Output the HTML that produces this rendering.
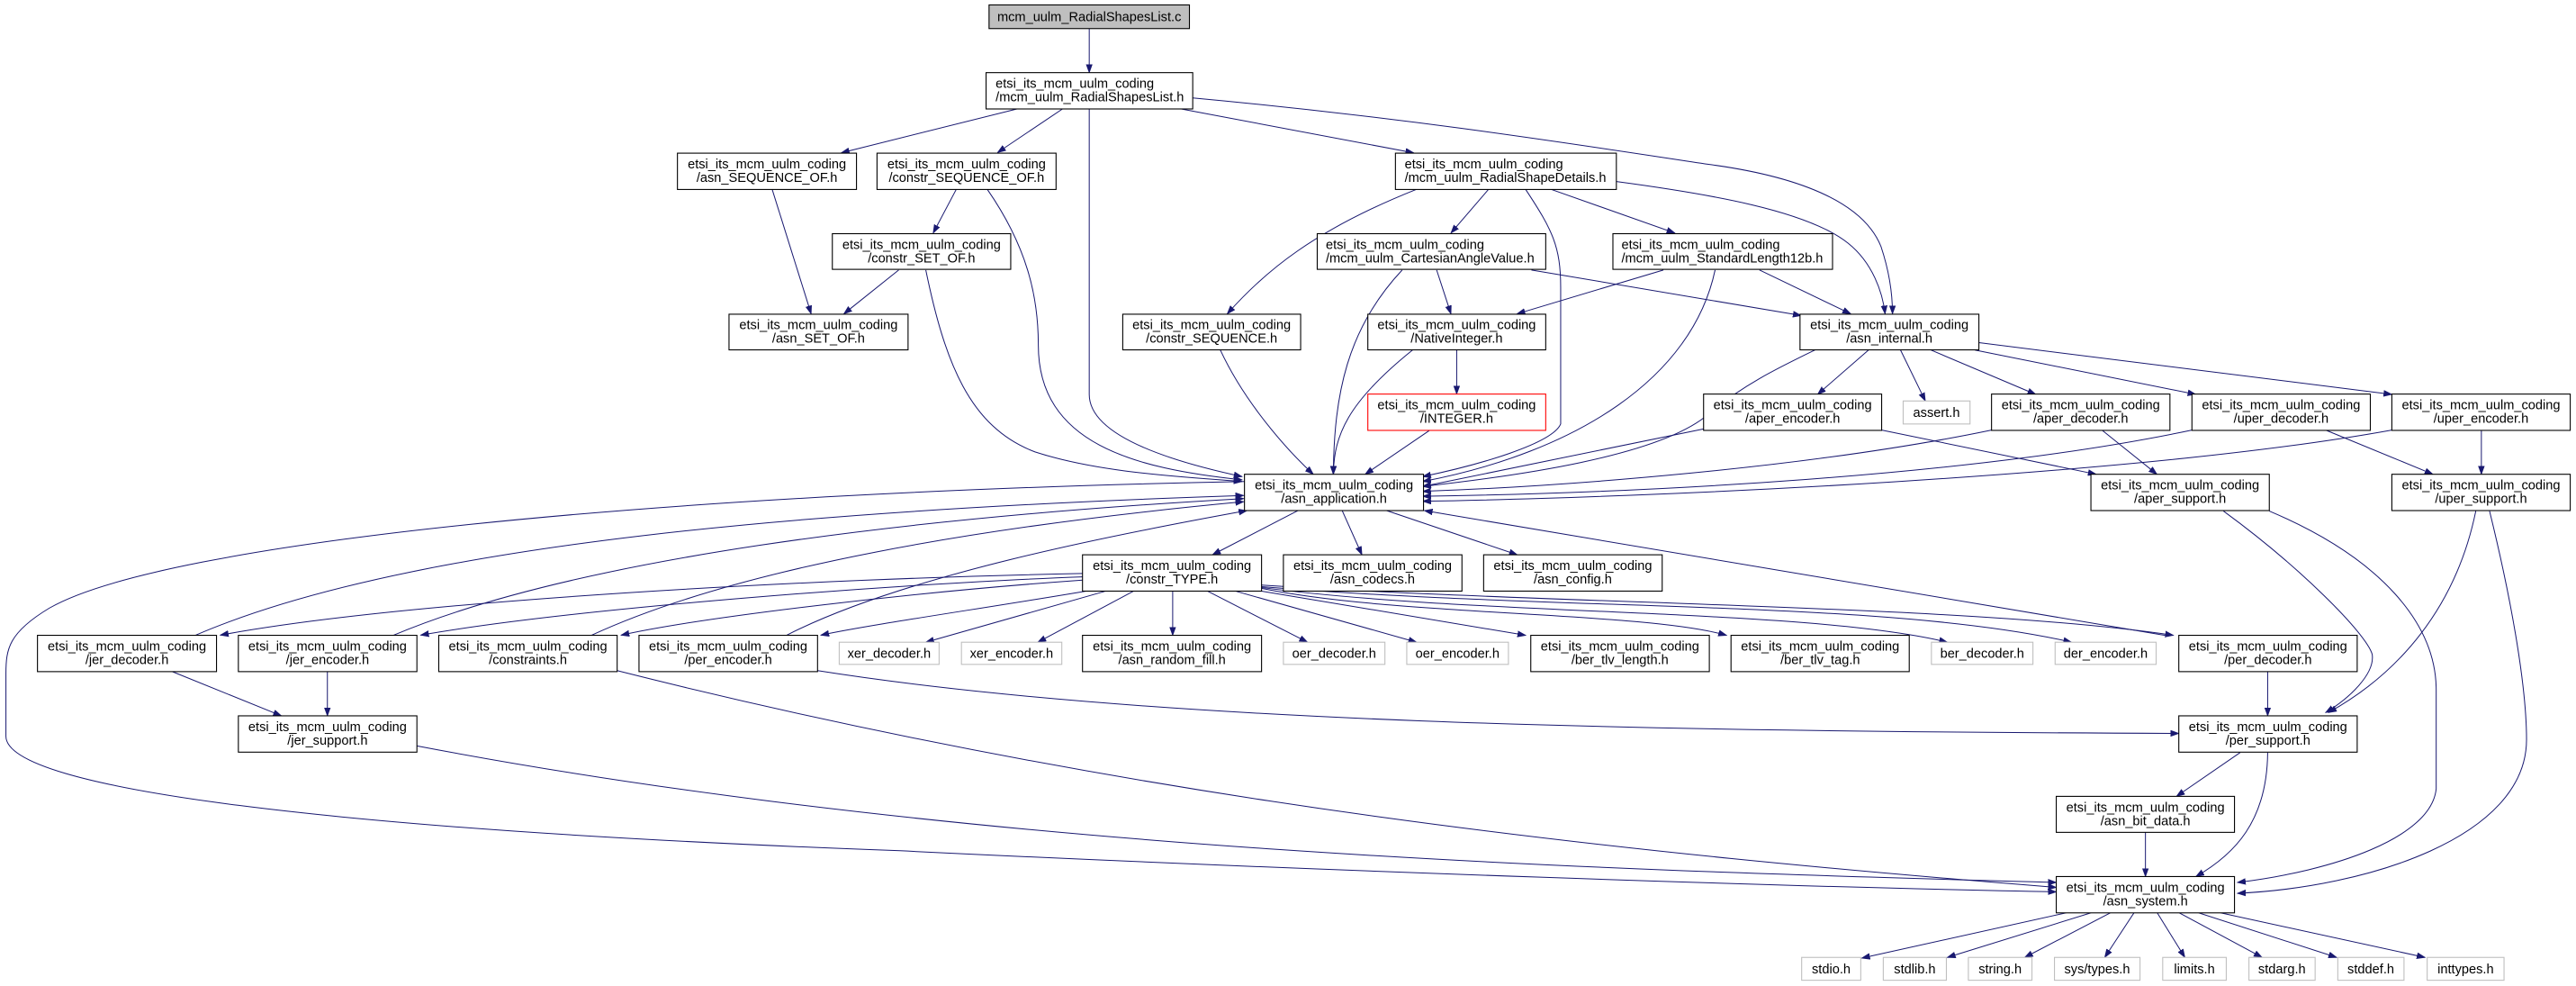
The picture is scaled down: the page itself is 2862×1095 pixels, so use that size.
<!DOCTYPE html>
<html><head><meta charset="utf-8"><style>
html,body{margin:0;padding:0;background:#fff;}
svg{display:block;}
text{font-family:"Liberation Sans",sans-serif;font-size:8px;fill:#000;}
.n{fill:#fff;stroke:#000;stroke-width:0.6;}
.g{fill:#fff;stroke:#bfbfbf;stroke-width:0.6;}
.e{fill:none;stroke:#191970;stroke-width:0.55;marker-end:url(#a);}
</style></head><body>
<svg width="2862" height="1095" viewBox="0 0 1568 600" xmlns="http://www.w3.org/2000/svg">
<defs><marker id="a" markerUnits="userSpaceOnUse" markerWidth="8" markerHeight="6" refX="5" refY="2" orient="auto"><path d="M0,0.2 L5,2 L0,3.8 z" fill="#191970" stroke="#191970" stroke-width="0.4"/></marker></defs>

<!-- edges -->
<path class="e" d="M663,17.3 L663,44.2"/>
<path class="e" d="M619,66.3 L512,93"/>
<path class="e" d="M646.7,66.3 L607.2,92.8"/>
<path class="e" d="M663,66.3 L663,240 C663,262 700,278 756,290"/>
<path class="e" d="M719,66.3 L860.5,93"/>
<path class="e" d="M726,59.6 C860,72 960,88 1040,100 C1100,108 1135,125 1145,150 C1150,165 1152,178 1152,191"/>
<path class="e" d="M984,110.5 C1040,118 1100,128 1125,148 C1140,160 1146,178 1147.5,191"/>
<path class="e" d="M862,115.3 C800,140 770,165 747,191"/>
<path class="e" d="M906,115.3 L883.2,141.8"/>
<path class="e" d="M928.7,115.3 C945,140 950,150 950,175 L950,258 C945,270 900,283 866,290"/>
<path class="e" d="M944.4,115.3 L1019.5,141.8"/>
<path class="e" d="M853.5,164.3 C820,200 812,240 811.6,288.6"/>
<path class="e" d="M874.5,164.3 L883.2,191"/>
<path class="e" d="M932.2,164.3 L1096.4,192"/>
<path class="e" d="M1012.5,164.3 L923.4,191"/>
<path class="e" d="M1044,164.3 C1030,230 960,275 866,293"/>
<path class="e" d="M1071,164.3 L1126.6,191"/>
<path class="e" d="M582,115.3 L568,141.8"/>
<path class="e" d="M601,115.3 C625,150 632,180 632,210 C632,270 690,285 756,292"/>
<path class="e" d="M470,115.3 L493.7,191"/>
<path class="e" d="M547,164.3 L513.6,191"/>
<path class="e" d="M563.5,164.3 C575,220 590,260 630,275 C670,288 720,290 756,293"/>
<path class="e" d="M742.8,213 C760,250 790,280 799.4,288.6"/>
<path class="e" d="M859.8,213 C820,245 812,265 811.6,288.6"/>
<path class="e" d="M886.7,213 L886.7,239.8"/>
<path class="e" d="M870,262 L831,288.6"/>
<path class="e" d="M1104.8,213 C1080,225 1060,235 1040,252 C1010,278 920,290 866,296"/>
<path class="e" d="M1137.4,213 L1106.4,240"/>
<path class="e" d="M1156.9,213 L1172,244"/>
<path class="e" d="M1175.4,213 L1239.2,240"/>
<path class="e" d="M1202.2,213 L1336.7,240"/>
<path class="e" d="M1204.6,208.5 L1456,240"/>
<path class="e" d="M1037,261 L866,296"/>
<path class="e" d="M1145.4,261.7 L1276,288.6"/>
<path class="e" d="M1212.3,261.7 C1100,285 950,296 866,299"/>
<path class="e" d="M1279.5,261.7 L1313,288.6"/>
<path class="e" d="M1334.3,261.7 C1200,290 1000,300 866,302"/>
<path class="e" d="M1415.7,261.7 L1481,288.6"/>
<path class="e" d="M1456,261.7 C1300,290 1000,303 866,305"/>
<path class="e" d="M1510.5,261.7 L1510.5,288.6"/>
<path class="e" d="M1353.5,311 C1400,345 1440,385 1444,398 C1446,410 1430,425 1415.7,433.6"/>
<path class="e" d="M1381.4,311 C1450,340 1483,380 1483,420 L1483,480 C1480,510 1420,530 1362,537"/>
<path class="e" d="M1507.1,311 C1495,370 1460,410 1417.4,433.6"/>
<path class="e" d="M1515.5,311 C1530,370 1538,420 1538,450 C1538,510 1440,540 1362,543.6"/>
<path class="e" d="M790,310.7 L738,337.6"/>
<path class="e" d="M817,310.7 L829,337.6"/>
<path class="e" d="M844,310.7 L923.6,337.6"/>
<path class="e" d="M1320,387 L867,310.7"/>
<path class="e" d="M1380.4,408.7 L1380.4,435.6"/>
<path class="e" d="M658.9,349 C500,352 250,365 134,386.5"/>
<path class="e" d="M658.9,351 C550,355 350,370 256,386.5"/>
<path class="e" d="M658.9,353 C560,360 430,375 378,386.5"/>
<path class="e" d="M661,359.7 C600,370 530,380 499.6,386.5"/>
<path class="e" d="M673,359.7 L563.5,390.8"/>
<path class="e" d="M690,359.7 L631.7,390.8"/>
<path class="e" d="M713.8,359.7 L713.8,386.6"/>
<path class="e" d="M735,359.7 L795.9,390.8"/>
<path class="e" d="M752,359.7 L862.3,390.8"/>
<path class="e" d="M767.9,359.7 L928.7,386.6"/>
<path class="e" d="M767.9,358 C850,375 1000,372 1051,386.6"/>
<path class="e" d="M767.9,357.5 C900,375 1100,370 1185.4,390.8"/>
<path class="e" d="M767.9,357 C950,372 1150,365 1261,390.8"/>
<path class="e" d="M767.9,356 C950,368 1200,368 1323,386.6"/>
<path class="e" d="M118.8,386.6 C250,330 500,310 757,301.5"/>
<path class="e" d="M239.3,386.6 C350,340 550,315 757,303.4"/>
<path class="e" d="M359.9,386.6 C450,345 600,320 757,305.3"/>
<path class="e" d="M478.7,386.6 C550,350 680,325 759,310.7"/>
<path class="e" d="M104.8,408.7 L171.2,435.6"/>
<path class="e" d="M199.2,408.7 L199.2,435.6"/>
<path class="e" d="M253.7,453.9 C600,520 1000,530 1251.7,537"/>
<path class="e" d="M375.6,408.1 C700,490 1000,520 1251.7,540"/>
<path class="e" d="M497.6,408.1 C700,440 1000,445 1326.3,446.3"/>
<path class="e" d="M757.5,293 C400,300 100,330 30,370 C5,385 3.5,395 3.5,410 L3.5,448 C3.5,480 200,505 548,517.7 C800,530 1100,540 1251.7,542.7"/>
<path class="e" d="M1363.6,458 L1324.9,484.6"/>
<path class="e" d="M1380.4,458 C1380,500 1360,520 1336.7,533.4"/>
<path class="e" d="M1306,506.5 L1306,533.4"/>
<path class="e" d="M1257.7,555.5 L1133.3,583"/>
<path class="e" d="M1272.8,555.5 L1185.4,582.6"/>
<path class="e" d="M1284.6,555.5 L1232.5,582.6"/>
<path class="e" d="M1299,555.5 L1281.2,582.6"/>
<path class="e" d="M1313.2,555.5 L1330,582.6"/>
<path class="e" d="M1326.6,555.5 L1377,582.6"/>
<path class="e" d="M1338.4,555.5 L1422.4,582.6"/>
<path class="e" d="M1351.8,555.5 L1476.2,582.6"/>

<!-- nodes -->
<rect x="602" y="3" width="122" height="14.4" fill="#bfbfbf" stroke="#000" stroke-width="0.6"/>
<text x="663" y="12.9" text-anchor="middle">mcm_uulm_RadialShapesList.c</text>

<rect class="n" x="600.2" y="44.2" width="125.8" height="22.1"/>
<text x="606" y="53.5">etsi_its_mcm_uulm_coding</text><text x="606" y="61.7">/mcm_uulm_RadialShapesList.h</text>

<g text-anchor="middle">
<rect class="n" x="412.3" y="93.2" width="109" height="22.1"/>
<text x="466.8" y="102.5">etsi_its_mcm_uulm_coding</text><text x="466.8" y="110.7">/asn_SEQUENCE_OF.h</text>
<rect class="n" x="533.8" y="93.2" width="109" height="22.1"/>
<text x="588.3" y="102.5">etsi_its_mcm_uulm_coding</text><text x="588.3" y="110.7">/constr_SEQUENCE_OF.h</text>
<rect class="n" x="506.6" y="142.2" width="108.6" height="21.7"/>
<text x="560.9" y="151.4">etsi_its_mcm_uulm_coding</text><text x="560.9" y="159.6">/constr_SET_OF.h</text>
<rect class="n" x="443.7" y="191.2" width="109" height="21.7"/>
<text x="498.2" y="200.4">etsi_its_mcm_uulm_coding</text><text x="498.2" y="208.6">/asn_SET_OF.h</text>
</g>

<rect class="n" x="849.4" y="93.2" width="134.5" height="22.1"/>
<text x="855" y="102.5">etsi_its_mcm_uulm_coding</text><text x="855" y="110.7">/mcm_uulm_RadialShapeDetails.h</text>
<rect class="n" x="801.8" y="142.2" width="139.1" height="21.7"/>
<text x="807" y="151.4">etsi_its_mcm_uulm_coding</text><text x="807" y="159.6">/mcm_uulm_CartesianAngleValue.h</text>
<rect class="n" x="981.8" y="142.2" width="133.7" height="21.7"/>
<text x="987" y="151.4">etsi_its_mcm_uulm_coding</text><text x="987" y="159.6">/mcm_uulm_StandardLength12b.h</text>

<g text-anchor="middle">
<rect class="n" x="683.4" y="191.2" width="108.3" height="21.7"/>
<text x="737.5" y="200.4">etsi_its_mcm_uulm_coding</text><text x="737.5" y="208.6">/constr_SEQUENCE.h</text>
<rect class="n" x="832.6" y="191.2" width="108.3" height="21.7"/>
<text x="886.7" y="200.4">etsi_its_mcm_uulm_coding</text><text x="886.7" y="208.6">/NativeInteger.h</text>
<rect x="832.6" y="239.8" width="108.3" height="22.1" fill="#fff" stroke="#ff0000" stroke-width="0.6"/>
<text x="886.7" y="249.1">etsi_its_mcm_uulm_coding</text><text x="886.7" y="257.3">/INTEGER.h</text>
<rect class="n" x="1095.7" y="191.2" width="108.9" height="21.7"/>
<text x="1150.1" y="200.4">etsi_its_mcm_uulm_coding</text><text x="1150.1" y="208.6">/asn_internal.h</text>

<rect class="n" x="1037" y="239.8" width="108.4" height="22.1"/>
<text x="1091.2" y="249.1">etsi_its_mcm_uulm_coding</text><text x="1091.2" y="257.3">/aper_encoder.h</text>
<rect class="g" x="1158.5" y="244" width="40.7" height="14"/>
<text x="1178.8" y="253.8">assert.h</text>
<rect class="n" x="1212.3" y="239.8" width="108.6" height="22.1"/>
<text x="1266.6" y="249.1">etsi_its_mcm_uulm_coding</text><text x="1266.6" y="257.3">/aper_decoder.h</text>
<rect class="n" x="1334.3" y="239.8" width="108.6" height="22.1"/>
<text x="1388.6" y="249.1">etsi_its_mcm_uulm_coding</text><text x="1388.6" y="257.3">/uper_decoder.h</text>
<rect class="n" x="1456" y="239.8" width="108.6" height="22.1"/>
<text x="1510.3" y="249.1">etsi_its_mcm_uulm_coding</text><text x="1510.3" y="257.3">/uper_encoder.h</text>

<rect class="n" x="1272.8" y="288.6" width="108.6" height="22.1"/>
<text x="1327.1" y="297.9">etsi_its_mcm_uulm_coding</text><text x="1327.1" y="306.1">/aper_support.h</text>
<rect class="n" x="1456" y="288.6" width="108.6" height="22.1"/>
<text x="1510.3" y="297.9">etsi_its_mcm_uulm_coding</text><text x="1510.3" y="306.1">/uper_support.h</text>
<rect class="n" x="757.5" y="288.6" width="109" height="22.1"/>
<text x="812" y="297.9">etsi_its_mcm_uulm_coding</text><text x="812" y="306.1">/asn_application.h</text>

<rect class="n" x="658.9" y="337.6" width="109" height="22.1"/>
<text x="713.4" y="346.9">etsi_its_mcm_uulm_coding</text><text x="713.4" y="355.1">/constr_TYPE.h</text>
<rect class="n" x="781.2" y="337.6" width="108.7" height="22.1"/>
<text x="835.5" y="346.9">etsi_its_mcm_uulm_coding</text><text x="835.5" y="355.1">/asn_codecs.h</text>
<rect class="n" x="903.1" y="337.6" width="108.7" height="22.1"/>
<text x="957.4" y="346.9">etsi_its_mcm_uulm_coding</text><text x="957.4" y="355.1">/asn_config.h</text>

<rect class="n" x="22.7" y="386.6" width="109" height="22.1"/>
<text x="77.2" y="395.9">etsi_its_mcm_uulm_coding</text><text x="77.2" y="404.1">/jer_decoder.h</text>
<rect class="n" x="145" y="386.6" width="108.7" height="22.1"/>
<text x="199.3" y="395.9">etsi_its_mcm_uulm_coding</text><text x="199.3" y="404.1">/jer_encoder.h</text>
<rect class="n" x="267" y="386.6" width="108.6" height="22.1"/>
<text x="321.3" y="395.9">etsi_its_mcm_uulm_coding</text><text x="321.3" y="404.1">/constraints.h</text>
<rect class="n" x="388.9" y="386.6" width="108.7" height="22.1"/>
<text x="443.2" y="395.9">etsi_its_mcm_uulm_coding</text><text x="443.2" y="404.1">/per_encoder.h</text>
<rect class="g" x="510.8" y="390.8" width="60.8" height="13.5"/>
<text x="541.2" y="400.3">xer_decoder.h</text>
<rect class="g" x="585.2" y="390.8" width="61.1" height="13.5"/>
<text x="615.7" y="400.3">xer_encoder.h</text>
<rect class="n" x="658.9" y="386.6" width="109" height="22.1"/>
<text x="713.4" y="395.9">etsi_its_mcm_uulm_coding</text><text x="713.4" y="404.1">/asn_random_fill.h</text>
<rect class="g" x="781.2" y="390.8" width="61.8" height="13.5"/>
<text x="812.1" y="400.3">oer_decoder.h</text>
<rect class="g" x="856.3" y="390.8" width="61.9" height="13.5"/>
<text x="887.2" y="400.3">oer_encoder.h</text>
<rect class="n" x="931.8" y="386.6" width="108.7" height="22.1"/>
<text x="986.1" y="395.9">etsi_its_mcm_uulm_coding</text><text x="986.1" y="404.1">/ber_tlv_length.h</text>
<rect class="n" x="1053.7" y="386.6" width="108.5" height="22.1"/>
<text x="1108" y="395.9">etsi_its_mcm_uulm_coding</text><text x="1108" y="404.1">/ber_tlv_tag.h</text>
<rect class="g" x="1175.7" y="390.8" width="61.8" height="13.5"/>
<text x="1206.6" y="400.3">ber_decoder.h</text>
<rect class="g" x="1251" y="390.8" width="61.5" height="13.5"/>
<text x="1281.8" y="400.3">der_encoder.h</text>
<rect class="n" x="1326.3" y="386.6" width="108.6" height="22.1"/>
<text x="1380.6" y="395.9">etsi_its_mcm_uulm_coding</text><text x="1380.6" y="404.1">/per_decoder.h</text>

<rect class="n" x="145" y="435.6" width="108.7" height="22.1"/>
<text x="199.3" y="444.9">etsi_its_mcm_uulm_coding</text><text x="199.3" y="453.1">/jer_support.h</text>
<rect class="n" x="1326.3" y="435.6" width="108.6" height="22.1"/>
<text x="1380.6" y="444.9">etsi_its_mcm_uulm_coding</text><text x="1380.6" y="453.1">/per_support.h</text>
<rect class="n" x="1251.7" y="484.6" width="108.5" height="21.9"/>
<text x="1306" y="493.9">etsi_its_mcm_uulm_coding</text><text x="1306" y="502.1">/asn_bit_data.h</text>
<rect class="n" x="1251.7" y="533.4" width="108.5" height="22.1"/>
<text x="1306" y="542.7">etsi_its_mcm_uulm_coding</text><text x="1306" y="550.9">/asn_system.h</text>

<rect class="g" x="1096.7" y="582.6" width="36" height="13.9"/><text x="1114.7" y="592.3">stdio.h</text>
<rect class="g" x="1146.4" y="582.6" width="38.4" height="13.9"/><text x="1165.6" y="592.3">stdlib.h</text>
<rect class="g" x="1198.2" y="582.6" width="38.7" height="13.9"/><text x="1217.5" y="592.3">string.h</text>
<rect class="g" x="1250.6" y="582.6" width="52.1" height="13.9"/><text x="1276.6" y="592.3">sys/types.h</text>
<rect class="g" x="1316.5" y="582.6" width="38.7" height="13.9"/><text x="1335.8" y="592.3">limits.h</text>
<rect class="g" x="1369" y="582.6" width="40.3" height="13.9"/><text x="1389.1" y="592.3">stdarg.h</text>
<rect class="g" x="1423.1" y="582.6" width="40.3" height="13.9"/><text x="1443.2" y="592.3">stddef.h</text>
<rect class="g" x="1477.5" y="582.6" width="46.8" height="13.9"/><text x="1500.9" y="592.3">inttypes.h</text>
</g>
</svg>
</body></html>
